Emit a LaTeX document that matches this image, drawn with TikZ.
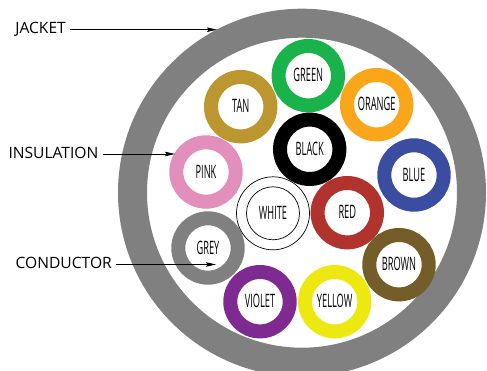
\documentclass[tikz,border=0pt]{standalone}
\usepackage{fontspec}
\setmainfont{Open Sans}
\newfontfamily\ringfont[FakeStretch=0.5]{Open Sans}
\usetikzlibrary{arrows.meta}
\definecolor{cgreen}{HTML}{19B24B}
\definecolor{corange}{HTML}{FAA61A}
\definecolor{ctan}{HTML}{BC962E}
\definecolor{cpink}{HTML}{E38FBC}
\definecolor{cblue}{HTML}{3A4DA0}
\definecolor{cred}{HTML}{B1332E}
\definecolor{cbrown}{HTML}{745D28}
\definecolor{cyellow}{HTML}{EEE811}
\definecolor{cviolet}{HTML}{7E2A90}
\definecolor{cgrey}{HTML}{808080}
\tikzset{
  wirering/.style={circle,draw=#1,line width=14pt,minimum size=59.4pt,inner sep=0pt,
    font=\ringfont\fontsize{18.5}{18.5}\selectfont,text=black,text height=12.4pt,text depth=0pt},
  calloutlabel/.style={anchor=east,inner sep=0pt,font=\fontsize{15.6}{15.6}\selectfont,text=black,
    text height=11.5pt,text depth=0pt},
  callout/.style={draw=black,line width=0.8pt,-{Stealth[length=10pt,width=4.5pt,inset=1.5pt]}}
}
\begin{document}
\begin{tikzpicture}[x=1pt,y=-1pt]
\useasboundingbox (0,0) rectangle (487,371);
\clip (0,0) rectangle (487,371);
\fill[white] (0,0) rectangle (487,371);
\node[circle,draw=cgrey,line width=29pt,minimum size=339pt,inner sep=0pt] (jacket) at (302,192.7) {};
\node[wirering=cgreen] (green) at (308.3,75.7) {GREEN};
\node[wirering=corange] (orange) at (376.7,104.7) {ORANGE};
\node[wirering=ctan] (tan) at (240.7,106.7) {TAN};
\node[wirering=cpink] (pink) at (206,172) {PINK};
\node[wirering=black] (black) at (309.7,149.3) {BLACK};
\node[wirering=cblue] (blue) at (414,175) {BLUE};
\node[wirering=cred] (red) at (347.3,212.7) {RED};
\node[wirering=cbrown] (brown) at (399,264.7) {BROWN};
\node[wirering=cyellow] (yellow) at (334.7,301.7) {YELLOW};
\node[wirering=cviolet] (violet) at (260,301.7) {VIOLET};
\node[wirering=cgrey] (grey) at (208,248) {GREY};
\node[circle,draw=black,line width=0.7pt,minimum size=73pt,inner sep=0pt] (whiteouter) at (273,213.3) {};
\node[circle,draw=black,line width=0.7pt,minimum size=53pt,inner sep=0pt,
  font=\ringfont\fontsize{18.5}{18.5}\selectfont,text=black,text height=12.4pt,text depth=0pt] (white) at (273,213.3) {WHITE};
\node[calloutlabel] (jacketlabel) at (66,28) {JACKET};
\node[calloutlabel] (insulationlabel) at (98.5,152.5) {INSULATION};
\node[calloutlabel] (conductorlabel) at (112,263) {CONDUCTOR};
\coordinate (jacketpt) at (217,29.7);
\coordinate (insulationpt) at (175,154);
\coordinate (conductorpt) at (216,264.5);
\draw[callout] (jacketlabel.east |- jacketpt) ++(4,0) -- (jacketpt);
\draw[callout] (insulationlabel.east |- insulationpt) ++(4,0) -- (insulationpt);
\draw[callout] (conductorlabel.east |- conductorpt) ++(4,0) -- (conductorpt);
\end{tikzpicture}
\end{document}
